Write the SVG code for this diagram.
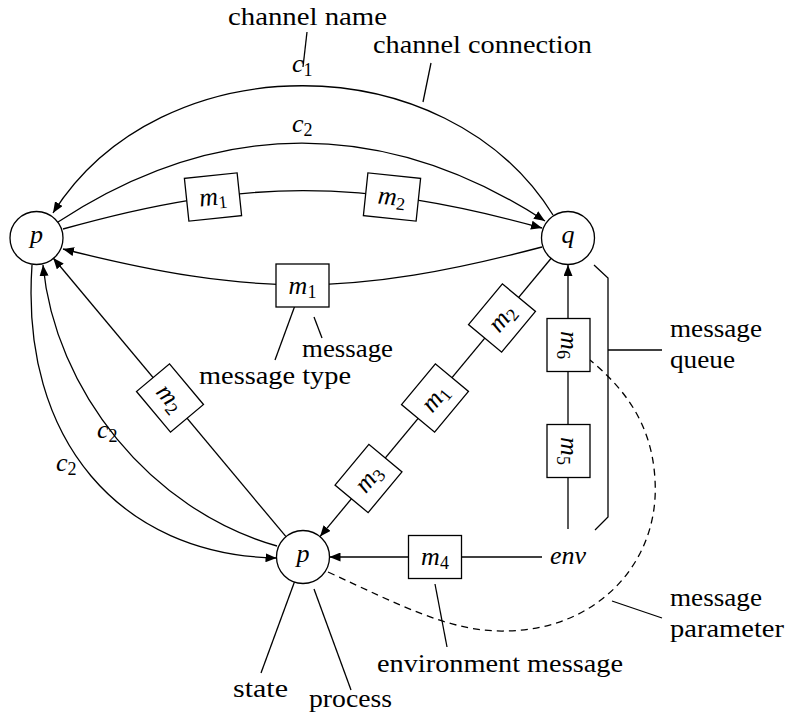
<svg xmlns="http://www.w3.org/2000/svg" width="787" height="717" viewBox="0 0 787 717">
<style>
.ln{stroke:#000;stroke-width:1.3;fill:none}
.dash{stroke:#000;stroke-width:1.3;fill:none;stroke-dasharray:7 5}
.box{fill:#fff;stroke:#000;stroke-width:1.3}
.node{fill:#fff;stroke:#000;stroke-width:1.3}
.t{font-size:25px;fill:#000}
.mi{font-style:italic;font-size:26px;fill:#000}
.sub{font-style:normal;font-size:18px}
</style>
<defs>
<marker id="arr" markerWidth="11" markerHeight="9" refX="11" refY="4.5" orient="auto" markerUnits="userSpaceOnUse">
<path d="M0,0 L11,4.5 L0,9 z" fill="#000"/>
</marker>
</defs>
<rect width="787" height="717" fill="#fff"/>

<g id="connectors">
<path class="ln" d="M553,215 C446,43 160,43 53,213" marker-end="url(#arr)"/>
<path class="ln" d="M58,222 C218,117 385,117 545,221" marker-end="url(#arr)"/>
<path class="ln" d="M63,229 C245,178 360,178 542,228" marker-end="url(#arr)"/>
<path class="ln" d="M542,247 C352,297 253,297 63,249" marker-end="url(#arr)"/>
<path class="ln" d="M551.4,258 L320,536.6" marker-end="url(#arr)"/>
<path class="ln" d="M286,536.7 L53.2,258" marker-end="url(#arr)"/>
<path class="ln" d="M277,546 C150,510 55,390 43,265" marker-end="url(#arr)"/>
<path class="ln" d="M32,265 C20,440 120,555 276.5,558" marker-end="url(#arr)"/>
<path class="ln" d="M568,529 L568,265" marker-end="url(#arr)"/>
<path class="ln" d="M542,557 L329.5,557" marker-end="url(#arr)"/>
<path class="dash" d="M328,572 C400,605 450,632 505,631 C600,630 660,560 655,480 C652,420 620,385 590,360"/>
</g>

<g id="leaders">
<path class="ln" d="M307,32 L303,67"/>
<path class="ln" d="M431,63 L423,102"/>
<path class="ln" d="M297,300 L275,360"/>
<path class="ln" d="M314,317 L322,338"/>
<path class="ln" d="M594,265 L608,278 L608,517 L595,530"/>
<path class="ln" d="M608,350 L662,350"/>
<path class="ln" d="M612,601 L662,618"/>
<path class="ln" d="M435,584 L447,647"/>
<path class="ln" d="M297,575 L261,673"/>
<path class="ln" d="M314,589 L351,690"/>
</g>

<g font-family="Liberation Serif, serif">
<g id="node-p">
<circle class="node" cx="36.5" cy="238" r="26.5"/>
<text class="mi" x="36.5" y="243" text-anchor="middle">p</text>
</g>
<g id="node-q">
<circle class="node" cx="568" cy="238" r="26.5"/>
<text class="mi" x="568" y="243" text-anchor="middle">q</text>
</g>
<g id="node-p2">
<circle class="node" cx="303" cy="557" r="26.5"/>
<text class="mi" x="303" y="562" text-anchor="middle">p</text>
</g>
<g id="node-env">
<text class="mi" x="568" y="564" text-anchor="middle">env</text>
</g>

<g id="msg-m1-top" transform="translate(213,197) rotate(-6)">
<rect class="box" x="-26.5" y="-21.5" width="53" height="43"/>
<text class="mi" x="0" y="8" text-anchor="middle">m<tspan class="sub" dy="4">1</tspan></text>
</g>
<g id="msg-m2-top" transform="translate(392,197) rotate(6)">
<rect class="box" x="-26.5" y="-21.5" width="53" height="43"/>
<text class="mi" x="0" y="8" text-anchor="middle">m<tspan class="sub" dy="4">2</tspan></text>
</g>
<g id="msg-m1-low" transform="translate(302.5,285.5)">
<rect class="box" x="-26.5" y="-21.5" width="53" height="43"/>
<text class="mi" x="0" y="8" text-anchor="middle">m<tspan class="sub" dy="4">1</tspan></text>
</g>
<g id="msg-m2-diag" transform="translate(502,318) rotate(-50.3)">
<rect class="box" x="-26.5" y="-21.5" width="53" height="43"/>
<text class="mi" x="0" y="8" text-anchor="middle">m<tspan class="sub" dy="4">2</tspan></text>
</g>
<g id="msg-m1-diag" transform="translate(435,398) rotate(-50.3)">
<rect class="box" x="-26.5" y="-21.5" width="53" height="43"/>
<text class="mi" x="0" y="8" text-anchor="middle">m<tspan class="sub" dy="4">1</tspan></text>
</g>
<g id="msg-m3-diag" transform="translate(368.5,478.5) rotate(-50.3)">
<rect class="box" x="-26.5" y="-21.5" width="53" height="43"/>
<text class="mi" x="0" y="8" text-anchor="middle">m<tspan class="sub" dy="4">3</tspan></text>
</g>
<g id="msg-m2-left" transform="translate(170,398) rotate(50.1)">
<rect class="box" x="-26.5" y="-21.5" width="53" height="43"/>
<text class="mi" x="0" y="8" text-anchor="middle">m<tspan class="sub" dy="4">2</tspan></text>
</g>
<g id="msg-m6" transform="translate(568.5,345) rotate(90)">
<rect class="box" x="-26.5" y="-21.5" width="53" height="43"/>
<text class="mi" x="0" y="8" text-anchor="middle">m<tspan class="sub" dy="4">6</tspan></text>
</g>
<g id="msg-m5" transform="translate(568.5,451) rotate(90)">
<rect class="box" x="-26.5" y="-21.5" width="53" height="43"/>
<text class="mi" x="0" y="8" text-anchor="middle">m<tspan class="sub" dy="4">5</tspan></text>
</g>
<g id="msg-m4" transform="translate(435,557)">
<rect class="box" x="-26.5" y="-21.5" width="53" height="43"/>
<text class="mi" x="0" y="8" text-anchor="middle">m<tspan class="sub" dy="4">4</tspan></text>
</g>

<g id="labels">
<text class="mi" x="292" y="72">c<tspan class="sub" dy="4">1</tspan></text>
<text class="mi" x="292" y="132">c<tspan class="sub" dy="4">2</tspan></text>
<text class="mi" x="97" y="438">c<tspan class="sub" dy="4">2</tspan></text>
<text class="mi" x="56" y="471">c<tspan class="sub" dy="4">2</tspan></text>
<text class="t" x="228" y="25" textLength="159" lengthAdjust="spacingAndGlyphs">channel name</text>
<text class="t" x="373" y="53" textLength="219" lengthAdjust="spacingAndGlyphs">channel connection</text>
<text class="t" x="302" y="357" textLength="91" lengthAdjust="spacingAndGlyphs">message</text>
<text class="t" x="199" y="384" textLength="152" lengthAdjust="spacingAndGlyphs">message type</text>
<text class="t" x="670" y="337" textLength="92" lengthAdjust="spacingAndGlyphs">message</text>
<text class="t" x="670" y="368" textLength="65" lengthAdjust="spacingAndGlyphs">queue</text>
<text class="t" x="670" y="606" textLength="92" lengthAdjust="spacingAndGlyphs">message</text>
<text class="t" x="670" y="637" textLength="114" lengthAdjust="spacingAndGlyphs">parameter</text>
<text class="t" x="377" y="672" textLength="246" lengthAdjust="spacingAndGlyphs">environment message</text>
<text class="t" x="233" y="697" textLength="55" lengthAdjust="spacingAndGlyphs">state</text>
<text class="t" x="309" y="707" textLength="83" lengthAdjust="spacingAndGlyphs">process</text>
</g>
</g>
</svg>
